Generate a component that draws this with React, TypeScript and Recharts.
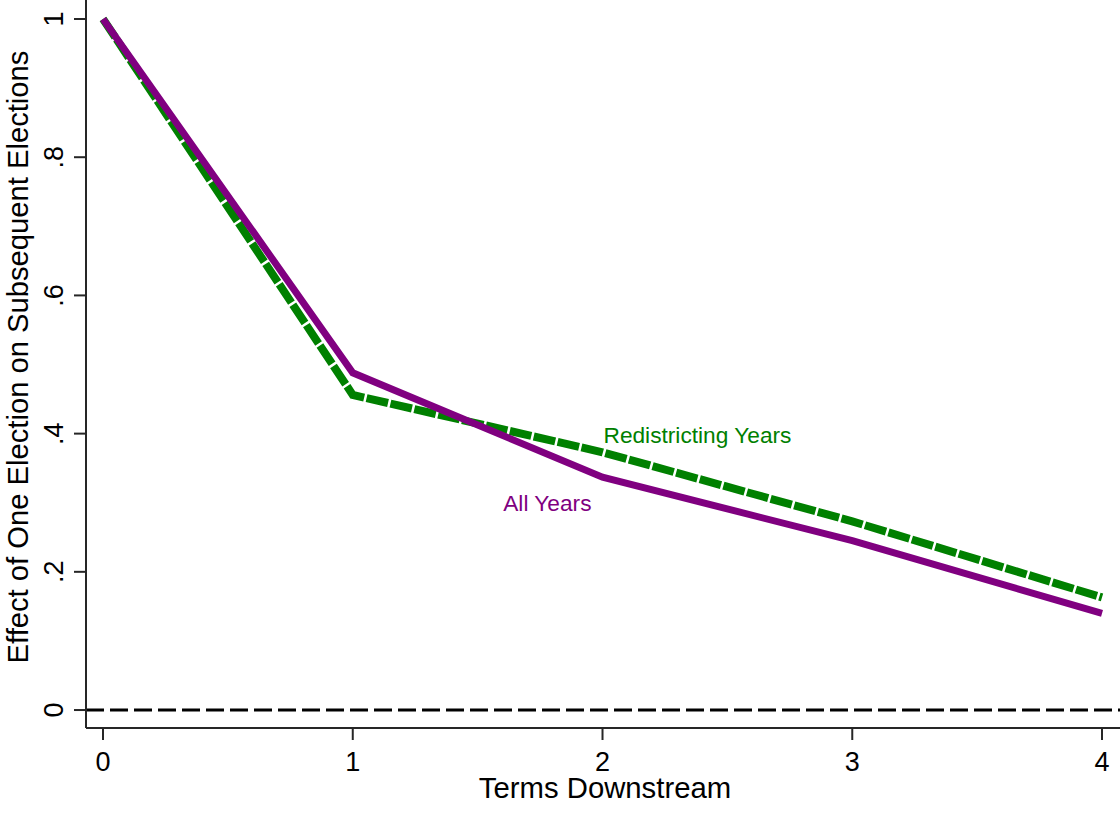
import React from "react";
import { LineChart, Line, XAxis, YAxis, ReferenceLine, LabelList, Label } from "recharts";

const terms = [0, 1, 2, 3, 4];
const allYears = [1.0, 0.488, 0.337, 0.245, 0.14];
const redistrictingYears = [1.0, 0.456, 0.373, 0.273, 0.163];
const xTicks = [0, 1, 2, 3, 4];
const yTicks = [0, 0.2, 0.4, 0.6, 0.8, 1];
const yTickLabels = ["0", ".2", ".4", ".6", ".8", "1"];

const data = terms.map((t, i) => ({ t, all: allYears[i], red: redistrictingYears[i] }));

const FONT = "'Liberation Sans', Arial, Helvetica, sans-serif";
const PURPLE = "#800080";
const GREEN = "#008000";
const AXIS = "#262626";

const XTick = (props: any) => {
  const { x, y, payload } = props;
  return (
    <text x={x} y={y + 31} textAnchor="middle" fontFamily={FONT} fontSize={27} fill="#000">
      {payload.value}
    </text>
  );
};

const YTick = (props: any) => {
  const { x, y, payload } = props;
  const idx = yTicks.findIndex((v) => Math.abs(v - payload.value) < 1e-9);
  const lbl = idx >= 0 ? yTickLabels[idx] : String(payload.value);
  const bx = x - 11;
  return (
    <text x={bx} y={y} transform={`rotate(-90, ${bx}, ${y})`} textAnchor="middle" fontFamily={FONT} fontSize={27} fill="#000">
      {lbl}
    </text>
  );
};

const redLabel = (props: any) => {
  const { x, y, index } = props;
  if (index !== 2) return null;
  return (
    <text x={x + 1} y={y - 9} textAnchor="start" fontFamily={FONT} fontSize={22.7} fill={GREEN}>
      Redistricting Years
    </text>
  );
};

const allLabel = (props: any) => {
  const { x, y, index } = props;
  if (index !== 2) return null;
  return (
    <text x={x - 11} y={y + 34} textAnchor="end" fontFamily={FONT} fontSize={22.7} fill={PURPLE}>
      All Years
    </text>
  );
};

const YTitle = (props: any) => {
  const vb = props.viewBox || {};
  const cx = 28;
  const cy = (vb.y ?? 0) + (vb.height ?? 728) / 2 - 7;
  return (
    <text x={cx} y={cy} transform={`rotate(-90, ${cx}, ${cy})`} textAnchor="middle" fontFamily={FONT} fontSize={29.2} fill="#000">
      Effect of One Election on Subsequent Elections
    </text>
  );
};

const XTitle = (props: any) => {
  const vb = props.viewBox || {};
  const cx = (vb.x ?? 86) + (vb.width ?? 1034) / 2 + 2;
  const cy = (vb.y ?? 728) + 70;
  return (
    <text x={cx} y={cy} textAnchor="middle" fontFamily={FONT} fontSize={29.3} fill="#000">
      Terms Downstream
    </text>
  );
};

export default function App() {
  return (
    <div style={{ position: "absolute", left: 0, top: 0, width: 1120, height: 814, background: "#fff" }}>
      <LineChart width={1120} height={814} data={data} margin={{ top: 0, right: 0, bottom: 0, left: 0 }}>
        <XAxis
          dataKey="t"
          type="number"
          domain={[-0.0681, 4.072]}
          allowDataOverflow
          ticks={xTicks}
          height={86}
          tickSize={12}
          tickMargin={0}
          tick={<XTick />}
          axisLine={{ stroke: AXIS, strokeWidth: 2 }}
          tickLine={{ stroke: AXIS, strokeWidth: 2 }}
          interval={0}
        >
          <Label content={<XTitle />} />
        </XAxis>
        <YAxis
          type="number"
          domain={[-0.026, 1.0275]}
          allowDataOverflow
          ticks={yTicks}
          width={86}
          tickSize={12}
          tickMargin={0}
          tick={<YTick />}
          axisLine={{ stroke: AXIS, strokeWidth: 2 }}
          tickLine={{ stroke: AXIS, strokeWidth: 2 }}
          interval={0}
        >
          <Label content={<YTitle />} />
        </YAxis>
        <ReferenceLine y={0} stroke="#000" strokeWidth={3} strokeDasharray="18 6" />
        <Line
          type="linear"
          dataKey="red"
          stroke={GREEN}
          strokeWidth={8}
          strokeDasharray="22 2.5"
          dot={false}
          activeDot={false}
          isAnimationActive={false}
        >
          <LabelList dataKey="red" content={redLabel} />
        </Line>
        <Line
          type="linear"
          dataKey="all"
          stroke={PURPLE}
          strokeWidth={7}
          dot={false}
          activeDot={false}
          isAnimationActive={false}
        >
          <LabelList dataKey="all" content={allLabel} />
        </Line>
      </LineChart>
    </div>
  );
}
